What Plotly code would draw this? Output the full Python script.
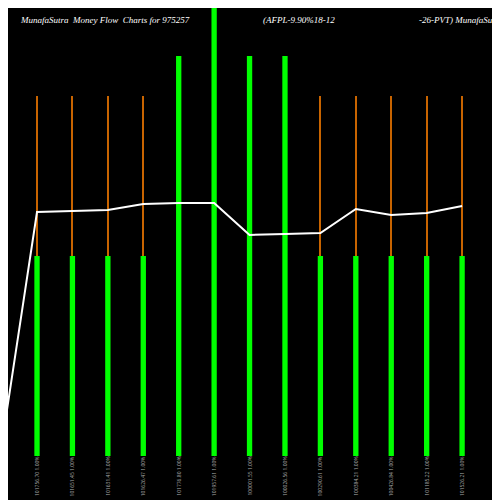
import plotly.graph_objects as go

dates = ['101756.70 1.00%', '101651.45 1.00%', '101631.41 1.00%', '101626.47 1.00%',
         '101776.80 1.00%', '101957.61 1.00%', '100001.55 1.00%', '100026.56 1.00%',
         '100290.61 1.00%', '100384.21 1.00%', '100426.84 1.00%', '101185.22 1.00%',
         '101526.21 1.00%']
volume = [200, 200, 200, 200, 400, 520, 400, 400, 200, 200, 200, 200, 200]
flow_marker = [360, 360, 360, 360, 0, 0, 0, 0, 360, 360, 360, 360, 360]
price_x = [-1.045, 0, 1, 2, 3, 4, 5, 6, 7, 8, 9, 10, 11, 12]
price = [60, 304, 305, 306, 312, 313, 313, 281, 282, 283, 307, 301, 303, 310]

idx = list(range(len(dates)))
fig = go.Figure()
fig.add_trace(go.Bar(x=idx, y=flow_marker, base=60, width=0.03,
                     marker=dict(color='#c86400', line_width=0)))
fig.add_trace(go.Bar(x=idx, y=volume, base=60, width=0.15,
                     marker=dict(color='#00ff00', line_width=0)))
fig.add_trace(go.Scatter(x=price_x, y=price, mode='lines',
                         line=dict(color='white', width=2)))

for i, d in enumerate(dates):
    fig.add_annotation(x=i, y=0.02, yref='paper', text=d, textangle=-90,
                       showarrow=False, yanchor='bottom',
                       font=dict(size=5, color='#aaaaaa'))

title_font = dict(family='Liberation Serif', size=9, color='white')
for xp, t in [(0.02, 'MunafaSutra  Money Flow  Charts for 975257'),
              (0.505, '(AFPL-9.90%18-12'),
              (0.818, '-26-PVT) MunafaSutra.com')]:
    fig.add_annotation(x=xp, y=0.976, xref='paper', yref='paper', xanchor='left',
                       yanchor='middle', text='<i>' + t + '</i>',
                       showarrow=False, font=title_font)

fig.update_layout(
    width=500, height=500, margin=dict(l=0, r=0, t=0, b=0),
    paper_bgcolor='black', plot_bgcolor='black',
    showlegend=False, barmode='overlay',
    xaxis=dict(range=[-0.819, 13.296], visible=False),
    yaxis=dict(range=[8, 508], visible=False),
)

fig.write_html("out.html")
